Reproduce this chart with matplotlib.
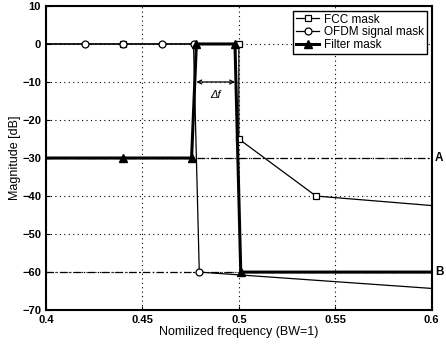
import matplotlib
matplotlib.use("Agg")
import matplotlib.pyplot as plt

plt.rcParams['font.family'] = ['Liberation Sans', 'DejaVu Sans']

# Data
fcc_x = [0.40, 0.44, 0.50, 0.50, 0.54, 0.60]
fcc_y = [0, 0, 0, -25, -40, -42.5]

ofdm_x = [0.40, 0.42, 0.44, 0.46, 0.4765, 0.4795, 0.60]
ofdm_y = [0, 0, 0, 0, 0, -60, -64.3]

filt_x = [0.40, 0.44, 0.4755, 0.478, 0.498, 0.501, 0.60]
filt_y = [-30, -30, -30, 0, 0, -60, -60]

ref_levels = [-30, -60]
ref_labels = ['A', 'B']

xticks = [0.4, 0.45, 0.5, 0.55, 0.6]
yticks = [10, 0, -10, -20, -30, -40, -50, -60, -70]

fig = plt.figure(figsize=(4.46, 3.5), dpi=100)
ax = fig.add_axes([0.103, 0.114, 0.865, 0.869])

# reference dash-dot lines
for lvl, lab in zip(ref_levels, ref_labels):
    ax.plot([0.4, 0.6], [lvl, lvl], color='black', lw=0.9, ls=(0, (6, 2, 1, 2)))
    ax.text(1.008, lvl, lab, transform=ax.get_yaxis_transform(), fontsize=8.5,
            fontweight='bold', va='center', ha='left', clip_on=False)

inner = lambda xs: list(range(1, len(xs) - 1))

ax.plot(fcc_x, fcc_y, color='black', lw=0.9, marker='s', ms=4.5, mfc='white',
        mec='black', mew=0.9, markevery=inner(fcc_x), label='FCC mask')
ax.plot(ofdm_x, ofdm_y, color='black', lw=0.9, marker='o', ms=5, mfc='white',
        mec='black', mew=0.9, markevery=inner(ofdm_x), label='OFDM signal mask')
ax.plot(filt_x, filt_y, color='black', lw=2.2, marker='^', ms=6, mfc='black',
        mec='black', markevery=inner(filt_x), label='Filter mask')

# delta f arrow
ax.annotate('', xy=(0.478, -10), xytext=(0.498, -10),
            arrowprops=dict(arrowstyle='<->', color='black', lw=0.9,
                            shrinkA=0, shrinkB=0, mutation_scale=7))
ax.text(0.488, -13.5, 'Δf', fontsize=8, style='italic', ha='center', va='center')

ax.set_xlim(0.4, 0.6)
ax.set_ylim(-70, 10)
ax.set_xticks(xticks)
ax.set_xticklabels(['0.4', '0.45', '0.5', '0.55', '0.6'])
ax.set_yticks(yticks)
ax.tick_params(direction='in', labelsize=8, length=3)
for lab in ax.get_xticklabels() + ax.get_yticklabels():
    lab.set_fontweight('bold')
ax.grid(True, ls=(0, (1, 3)), color='black', lw=0.8)
for s in ax.spines.values():
    s.set_linewidth(1.5)

ax.set_xlabel('Nomilized frequency (BW=1)', fontsize=9, labelpad=1)
ax.set_ylabel('Magnitude [dB]', fontsize=9, labelpad=1)

leg = ax.legend(loc='upper right', fontsize=8.5, handlelength=2.0,
                borderpad=0.25, labelspacing=0.05, handletextpad=0.4,
                fancybox=False, framealpha=1, edgecolor='black',
                borderaxespad=0.4)
leg.get_frame().set_linewidth(1.0)

fig.savefig('out.png', dpi=100)
